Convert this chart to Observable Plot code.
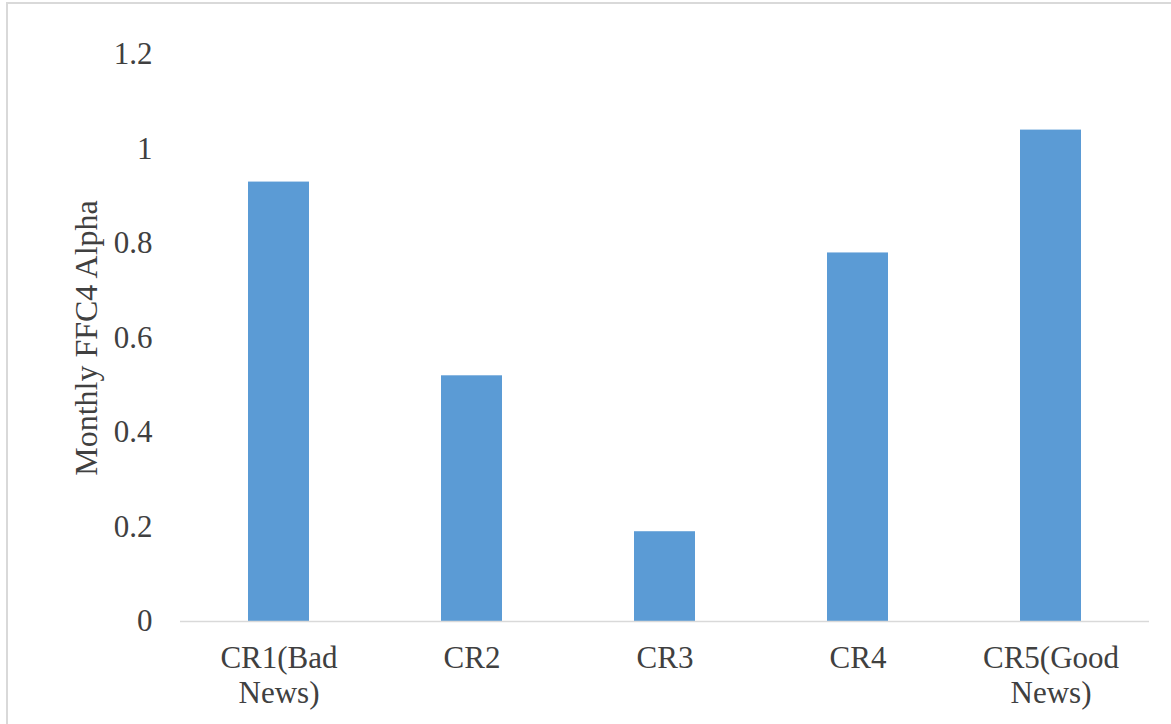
<!DOCTYPE html>
<html>
<head>
<meta charset="utf-8">
<script src="https://cdn.jsdelivr.net/npm/d3@7"></script>
<script src="https://cdn.jsdelivr.net/npm/@observablehq/plot@0.6"></script>
<style>
  html, body { margin: 0; padding: 0; background: #fff; overflow: hidden; }
  #wrap { position: relative; width: 1171px; height: 724px; }
  #border { position: absolute; left: 6px; top: 2px; width: 1200px; height: 800px;
            border: 2px solid #d9d9d9; box-sizing: border-box; }
  #chart { position: absolute; left: 0; top: 0; }
  #chart svg, #chart svg text { font-family: "Liberation Serif", "DejaVu Serif", serif !important; }
</style>
</head>
<body>
<div id="wrap">
  <div id="border"></div>
  <div id="chart"></div>
</div>
<script>
// Conditional-return portfolios and their monthly four-factor alpha
const categories = ["CR1", "CR2", "CR3", "CR4", "CR5"];
const categoryLabels = ["CR1(Bad\nNews)", "CR2", "CR3", "CR4", "CR5(Good\nNews)"];
const alphaValues = [0.93, 0.52, 0.19, 0.78, 1.04];
const yTicks = [0, 0.2, 0.4, 0.6, 0.8, 1, 1.2];

const data = categories.map((c, i) => ({category: c, label: categoryLabels[i], alpha: alphaValues[i]}));
const labelOf = new Map(data.map(d => [d.category, d.label]));

const serif = "Liberation Serif";
const gap = 0.6865;
const chart = Plot.plot({
  width: 1171,
  height: 724,
  marginLeft: 180,
  marginRight: 22,
  marginTop: 54,
  marginBottom: 103,
  style: {fontSize: "31px", color: "#404040", background: "transparent"},
  x: {domain: categories, paddingInner: gap, paddingOuter: gap / 2, label: null},
  y: {domain: [0, 1.2], label: null},
  marks: [
    Plot.barY(data, {x: "category", y: "alpha", fill: "#5b9bd5"}),
    Plot.ruleY([0], {stroke: "#d9d9d9", strokeWidth: 1.5}),
    Plot.axisY({
      ticks: yTicks,
      tickSize: 0,
      tickPadding: 28,
      tickFormat: d => d3.format("~g")(d),
      fontSize: 31,
      fontFamily: serif,
      fill: "#404040",
      label: null
    }),
    Plot.axisX({
      tickSize: 0,
      tickPadding: 22,
      tickFormat: d => labelOf.get(d),
      fontSize: 31,
      fontFamily: serif,
      lineHeight: 1.13,
      fill: "#404040",
      label: null
    }),
    Plot.text(["Monthly FFC4 Alpha"], {
      frameAnchor: "left",
      textAnchor: "middle",
      dx: -94,
      rotate: -90,
      fontSize: 32,
      fontFamily: serif,
      fill: "#404040"
    })
  ]
});
document.getElementById("chart").append(chart);
</script>
</body>
</html>
